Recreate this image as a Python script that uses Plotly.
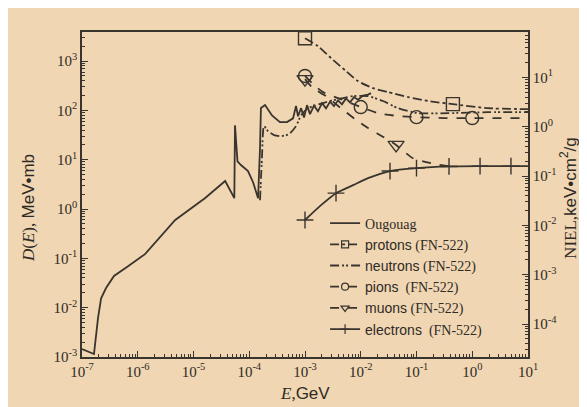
import plotly.graph_objects as go

# ---------------- data (E in GeV, D(E) in MeV*mb) ----------------
oug_E = [1.0e-7, 1.64e-7, 1.94e-7, 2.2e-7, 2.7e-7, 3.75e-7, 6.7e-7, 1.35e-6, 4.7e-6, 1.6e-5,
         3.7e-5, 4.6e-5, 5.4e-5, 5.55e-5, 6.15e-5, 7.1e-5, 9.5e-5, 1.17e-4, 1.44e-4, 1.56e-4,
         1.62e-4, 1.92e-4, 2.56e-4, 3.55e-4, 4.75e-4, 6.1e-4, 6.9e-4, 7.5e-4,
         8.5e-4, 9.6e-4, 1.087e-3, 1.23e-3, 1.45e-3, 1.71e-3, 2.02e-3, 2.38e-3, 2.81e-3,
         3.31e-3, 3.91e-3, 4.61e-3, 5.43e-3, 6.41e-3, 7.57e-3, 8.93e-3, 1.10e-2, 1.35e-2, 1.53e-2]
oug_D = [1.45e-3, 1.15e-3, 6.2e-3, 1.55e-2, 2.5e-2, 4.4e-2, 6.9e-2, 0.122, 0.6, 1.66,
         3.7, 2.4, 1.66, 50, 9.3, 7.8, 5.9, 3.5, 1.66, 17.2,
         112, 129, 79, 58, 58, 69, 123, 76,
         111, 72, 128, 84, 125, 96, 140, 110, 150,
         122, 160, 133, 175, 146, 185, 165, 200, 210, 224]

pro_E = [1.0e-3, 1.71e-3, 2.93e-3, 5.2e-3, 8.9e-3, 1.66e-2, 3.08e-2, 7.05e-2, 0.161, 0.45, 1.92, 10.0]
pro_D = [2900, 2010, 1150, 656, 393, 283, 235, 186, 155, 134, 111, 106]
pro_mk_E = [1.0e-3, 0.45]
pro_mk_D = [2900, 134]

neu_E = [1.56e-4, 1.69e-4, 1.84e-4, 2.17e-4, 2.78e-4, 3.72e-4, 5.16e-4, 6.9e-4, 8.5e-4,
         1.13e-3, 2.1e-3, 3.9e-3, 7.3e-3, 1.35e-2, 2.5e-2, 4.66e-2, 0.106, 0.367, 1.92, 10.0]
neu_D = [1.51, 10.8, 48, 38, 31.6, 30, 33, 48, 79,
         111, 141, 170, 195, 195, 155, 111, 88, 88, 92, 92]

pio_E = [1.0e-3, 1.39e-3, 2.1e-3, 3.9e-3, 1.0e-2, 2.04e-2, 4.66e-2, 0.1, 0.3, 1.0, 10.0]
pio_D = [500, 341, 235, 178, 117, 88, 77, 73, 70, 70, 70]
pio_mk_E = [1.0e-3, 1.0e-2, 0.1, 1.0]
pio_mk_D = [500, 117, 73, 70]

muo_E = [1.0e-3, 1.39e-3, 2.38e-3, 4.4e-3, 7.9e-3, 1.35e-2, 2.4e-2, 4.3e-2, 8.65e-2, 0.182, 0.4]
muo_D = [430, 283, 195, 111, 66.5, 43.8, 30, 20, 10.7, 8.5, 7.3]
muo_mk_E = [1.0e-3, 4.3e-2]
muo_mk_D = [430, 20]

ele_E = [1.0e-3, 1.94e-3, 3.6e-3, 7.3e-3, 1.35e-2, 3.35e-2, 0.1, 0.383, 1.38, 4.95, 10.0]
ele_D = [0.6, 1.2, 2.1, 3.05, 4.24, 5.9, 6.76, 7.3, 7.4, 7.4, 7.4]
ele_mk_E = [1.0e-3, 3.6e-3, 3.35e-2, 0.1, 0.383, 1.38, 4.95]
ele_mk_D = [0.6, 2.1, 5.9, 6.76, 7.3, 7.4, 7.4]

x_tickvals = [1e-7, 1e-6, 1e-5, 1e-4, 1e-3, 1e-2, 1e-1, 1e0, 1e1]
x_ticktext = ["10<sup>-7</sup>", "10<sup>-6</sup>", "10<sup>-5</sup>", "10<sup>-4</sup>", "10<sup>-3</sup>",
              "10<sup>-2</sup>", "10<sup>-1</sup>", "10<sup>0</sup>", "10<sup>1</sup>"]
yl_tickvals = [1e-3, 1e-2, 1e-1, 1e0, 1e1, 1e2, 1e3]
yl_ticktext = ["10<sup>-3</sup>", "10<sup>-2</sup>", "10<sup>-1</sup>", "10<sup>0</sup>",
               "10<sup>1</sup>", "10<sup>2</sup>", "10<sup>3</sup>"]
yr_tickvals = [1e-4, 1e-3, 1e-2, 1e-1, 1e0, 1e1]
yr_ticktext = ["10<sup>-4</sup>", "10<sup>-3</sup>", "10<sup>-2</sup>", "10<sup>-1</sup>",
               "10<sup>0</sup>", "10<sup>1</sup>"]

# ---------------- styling ----------------
INK = "#3a342e"
BEIGE = "rgb(240,214,178)"
SERIF = "Liberation Serif, Times New Roman, serif"
NEU_DASH = "9px,3px,2px,2px,2px,3px"

def sans(t):
    return '<span style="font-family:Liberation Sans">' + t + '</span>'

fig = go.Figure()

def add_series(name, E, D, dash, mkE=None, mkD=None, symbol=None, msize=11, spline=True):
    fig.add_trace(go.Scatter(x=E, y=D, mode="lines", showlegend=False,
                             line=dict(color=INK, width=1.8, dash=dash,
                                       shape="spline" if spline else "linear",
                                       smoothing=0.6)))
    if mkE is not None:
        fig.add_trace(go.Scatter(x=mkE, y=mkD, mode="markers", showlegend=False,
                                 marker=dict(symbol=symbol, size=msize, color=INK,
                                             line=dict(color=INK, width=1.4))))
    fig.add_trace(go.Scatter(x=[None], y=[None], name=name,
                             mode="lines+markers" if symbol else "lines",
                             line=dict(color=INK, width=1.8, dash=dash),
                             marker=dict(symbol=symbol if symbol else "circle", size=7, color=INK,
                                         line=dict(color=INK, width=1.2))))

add_series("Ougouag", oug_E, oug_D, "solid", spline=False)
add_series(sans("protons") + " (FN-522)", pro_E, pro_D, "dashdot", pro_mk_E, pro_mk_D, "square-open", 13)
add_series(sans("neutrons") + " (FN-522)", neu_E, neu_D, NEU_DASH, spline=True)
add_series(sans("pions") + "  (FN-522)", pio_E, pio_D, "dash", pio_mk_E, pio_mk_D, "circle-open", 13)
add_series(sans("muons") + " (FN-522)", muo_E, muo_D, "dash", muo_mk_E, muo_mk_D, "triangle-down-open", 14)
add_series(sans("electrons") + "  (FN-522)", ele_E, ele_D, "solid", ele_mk_E, ele_mk_D, "cross-thin", 12)

# invisible trace so the right axis is drawn
fig.add_trace(go.Scatter(x=[None], y=[None], yaxis="y2", showlegend=False))

tickfont = dict(family=SERIF, size=15, color="#2e2a26")
minor = dict(ticks="inside", ticklen=3, tickcolor=INK, dtick="D1", showgrid=False)

fig.update_layout(
    template="none",
    width=587, height=407,
    margin=dict(l=74, r=67, t=24, b=58, pad=0),
    paper_bgcolor=BEIGE,
    plot_bgcolor=BEIGE,
    showlegend=True,
    legend=dict(x=0.545, y=0.46, xanchor="left", yanchor="top",
                bgcolor="rgba(0,0,0,0)", font=dict(family=SERIF, size=14, color="#2e2a26"),
                itemwidth=30, tracegroupgap=0),
    xaxis=dict(type="log", range=[-7, 1], tickmode="array", tickvals=x_tickvals, ticktext=x_ticktext,
               ticks="inside", ticklen=6, tickcolor=INK, showline=True, linecolor=INK, linewidth=1.5,
               mirror=True, showgrid=False, zeroline=False, tickfont=tickfont, minor=minor),
    yaxis=dict(type="log", range=[-3, 3.59], tickmode="array", tickvals=yl_tickvals, ticktext=yl_ticktext,
               ticks="inside", ticklen=6, tickcolor=INK, showline=True, linecolor=INK, linewidth=1.5,
               mirror=True, showgrid=False, zeroline=False, tickfont=tickfont, minor=minor),
    yaxis2=dict(type="log", range=[-4.669, 1.921], overlaying="y", side="right", anchor="x",
                tickmode="array", tickvals=yr_tickvals, ticktext=yr_ticktext,
                ticks="inside", ticklen=6, tickcolor=INK, showline=True, linecolor=INK, linewidth=1.5,
                showgrid=False, zeroline=False, tickfont=tickfont, minor=minor),
    annotations=[
        dict(text="<i>E</i>," + sans("GeV"), xref="paper", yref="paper", x=0.5, y=-0.111,
             showarrow=False, font=dict(family=SERIF, size=17, color="#2e2a26"),
             xanchor="center", yanchor="middle"),
        dict(text="<i>D</i>(<i>E</i>), " + sans("MeV•mb"), xref="paper", yref="paper", x=-0.12, y=0.46,
             showarrow=False, textangle=-90, font=dict(family=SERIF, size=17, color="#2e2a26"),
             xanchor="center", yanchor="middle"),
        dict(text="NIEL," + sans("keV•cm<sup>2</sup>/g"), xref="paper", yref="paper", x=1.09, y=0.49,
             showarrow=False, textangle=-90, font=dict(family=SERIF, size=17, color="#2e2a26"),
             xanchor="center", yanchor="middle"),
    ],
)

fig.write_html("out.html")
